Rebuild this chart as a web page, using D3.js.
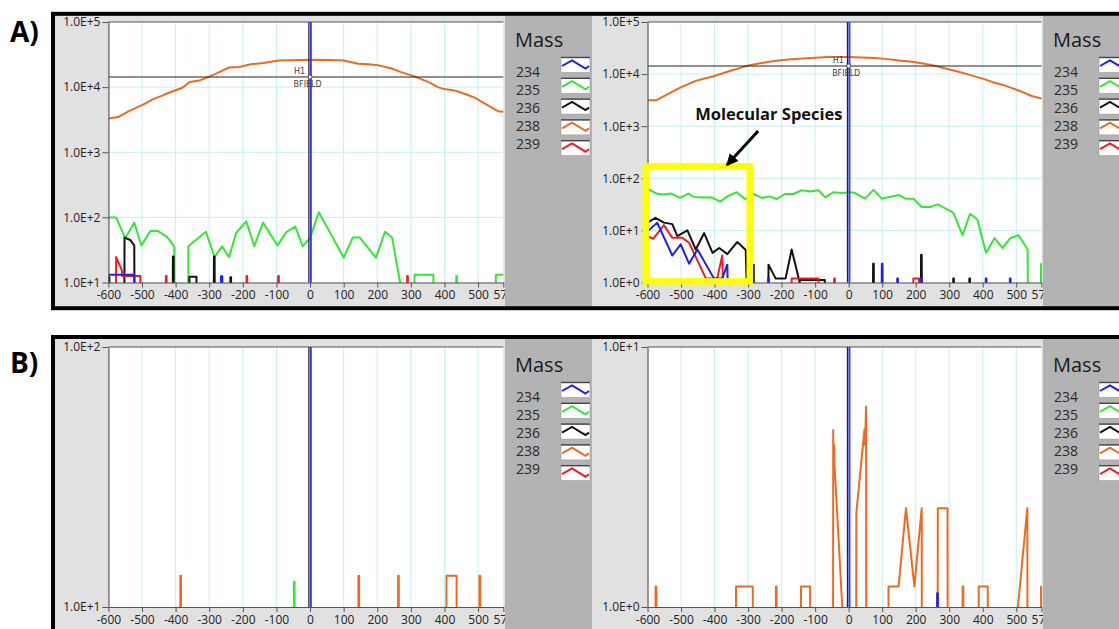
<!DOCTYPE html>
<html><head><meta charset="utf-8">
<script src="https://cdn.jsdelivr.net/npm/d3@7"></script>
<style>
body{margin:0;background:#fff;}
svg{display:block;font-family:"Open Sans",sans-serif;}
</style></head>
<body><svg id="c" width="1119" height="629"></svg>
<script>
// ---------------- DATA ----------------
const masses = ["234","235","236","238","239"];
const xTicks = [-600,-500,-400,-300,-200,-100,0,100,200,300,400,500,575];
const yTicksA1 = [1e1,1e2,1e3,1e4,1e5];
const yTicksA2 = [1e0,1e1,1e2,1e3,1e4,1e5];
const yTicksB1 = [1e1,1e2];
const yTicksB2 = [1e0,1e1];
const cursorValue = 14300;     // H1 BFIELD cursor level (panel A)
const cursorX = 0;

// Panel A, left  (0 = below range)
const a1_234 = [[-600,13.1],[-523,13.1],[-522,0],[-266,0],[-265,12.5],[-261,12.5],[-260,0]];
const a1_235 = [[-600,100],[-577,100],[-550,48],[-523,83],[-502,37],[-475,62],[-454,62],[-427,51],[-404,36],[-403,0],[-363,0],[-362,36],[-310,60],[-284,24.5],[-262,36],[-241,24.5],[-220,57.5],[-190,87],[-166,36],[-140,83],[-97,37],[-70,60],[-44,72],[-22,36],[0,48],[26,120],[63,54],[100,24],[127,49],[148,49],[196,24],[223,60],[244,49],[268,10],[269,0],[310,0],[311,13.2],[367,13.2],[368,0],[434,0],[435,12.6],[437,12.6],[438,0],[552,0],[553,13.2],[575,13.2]];
const a1_236 = [[-600,0],[-599,12.3],[-597,12.3],[-596,0],[-553,0],[-552,49],[-535,45],[-523,37],[-522,0],[-409,0],[-408,25],[-406,25],[-405,0],[-360,0],[-359,12.3],[-338,12.3],[-337,0],[-287,0],[-286,25],[-284,25],[-283,0],[-238,0],[-237,12],[-235,12],[-234,0]];
const a1_238 = [[-600,3310],[-571,3470],[-539,4270],[-497,5370],[-465,6610],[-440,7400],[-422,8130],[-380,9770],[-358,12000],[-330,12600],[-305,14100],[-270,17000],[-241,20000],[-210,20400],[-177,22400],[-140,23500],[-92,25700],[0,26300],[60,26000],[100,25700],[143,22900],[175,22500],[207,21400],[240,19500],[271,17000],[313,14500],[356,11700],[380,10000],[399,9330],[430,8900],[463,7760],[490,6900],[516,5750],[540,4900],[559,4270],[575,4170]];
const a1_239 = [[-578,0],[-577,24.6],[-560,15.5],[-559,12.6],[-505,12.6],[-504,0],[-430,0],[-429,12.6],[-427,12.6],[-426,0],[-190,0],[-189,12.6],[-187,12.6],[-186,0],[-96,0],[-95,12.6],[-93,12.6],[-92,0],[288,0],[289,12.6],[291,12.6],[292,0]];

// Panel A, right
const a2_234 = [[-600,9.5],[-571,14.1],[-526,3.3],[-501,5.4],[-476,2.3],[-451,4.3],[-402,1.2],[-377,1.2],[-362,2.2],[-357,0],[-241,0],[-240,1.2],[-238,1.2],[-237,0],[98,0],[99,2.3],[101,2.3],[102,0],[144,0],[145,1.2],[147,1.2],[148,0],[214,0],[215,1.2],[217,1.2],[218,0],[408,0],[409,1.2],[411,1.2],[412,0],[480,0],[481,1.2],[483,1.2],[484,0]];
const a2_235 = [[-600,63],[-573,51],[-553,49],[-528,51],[-503,42],[-478,51],[-463,44],[-433,43],[-408,43],[-384,35.5],[-359,46],[-334,54],[-309,40],[-284,50],[-259,42],[-235,45],[-215,40],[-190,50],[-165,50],[-140,59],[-115,56],[-90,59],[-70,43],[-46,54],[-21,52],[4,54],[19,52],[49,40.7],[74,60],[99,40.7],[149,48],[169,40.7],[193,40.7],[218,28.2],[243,28.2],[266,31.6],[312,21.9],[340,8.1],[362,20.9],[384,16.2],[410,3.7],[435,7.1],[459,4.6],[482,7.1],[507,8.1],[534,4.3],[535,0],[573,0],[574,2.3],[575,2.3]];
const a2_236 = [[-600,14.1],[-576,17.4],[-551,14.1],[-526,13.2],[-511,7.8],[-481,10],[-456,4.3],[-431,8.9],[-406,3.7],[-386,4.6],[-362,3.5],[-332,6],[-307,4.2],[-300,0],[-286,0],[-285,2.2],[-283,2.2],[-282,0],[-240,0],[-239,2.2],[-218,1.2],[-188,1.2],[-170,4.3],[-146,1],[-145,1.12],[-71,1.12],[-70,0],[72,0],[73,2.3],[75,2.3],[76,0],[215,0],[216,3.4],[218,3.4],[219,0],[311,0],[312,1.2],[314,1.2],[315,0],[359,0],[360,1.2],[362,1.2],[363,0]];
const a2_238 = [[-600,3160],[-573,3160],[-541,4070],[-520,4800],[-499,5620],[-456,7410],[-430,8200],[-403,9120],[-350,11700],[-320,13300],[-296,14800],[-260,16300],[-222,17800],[-180,19000],[-136,20000],[-62,21400],[0,21400],[77,20400],[110,19600],[151,18200],[190,17200],[226,15800],[260,14300],[301,12300],[330,11000],[364,9550],[400,8200],[428,7080],[460,6200],[492,5250],[520,4500],[546,3800],[575,3390]];
const a2_239 = [[-600,7.8],[-583,6.9],[-551,12.6],[-526,7.2],[-496,7.2],[-476,5.8],[-426,1.2],[-392,1.2],[-377,3.3],[-372,0],[-171,0],[-170,1.2],[-90,1.2],[-89,0],[-44,0],[-43,1.2],[-41,1.2],[-40,0],[192,0],[193,1.2],[210,1.2],[211,0]];

// Panel B, left
const b1_234 = [];
const b1_235 = [[-49,0],[-48,12.5],[-46,12.5],[-45,0]];
const b1_236 = [];
const b1_238 = [[-387,0],[-386,13.2],[-384,13.2],[-383,0],[143,0],[144,13.2],[146,13.2],[147,0],[261,0],[262,13.2],[264,13.2],[265,0],[405,0],[406,13.2],[436,13.2],[437,0],[503,0],[504,13.2],[506,13.2],[507,0]];
const b1_239 = [];

// Panel B, right
const b2_234 = [[263,0],[264,1.13],[266,1.13],[267,0]];
const b2_235 = [];
const b2_236 = [];
const b2_238 = [[-577,0],[-576,1.2],[-574,1.2],[-573,0],[-337,0],[-336,1.2],[-286,1.2],[-285,0],[-218,0],[-217,1.2],[-215,1.2],[-214,0],[-143,0],[-142,1.2],[-115,1.2],[-114,0],[-47,0],[-46,4.8],[-45,3.3],[-43,4.2],[-42,3.5],[-19,1],[-18,0],[22,0],[23,2.3],[47,4.8],[49,4.2],[52,5.9],[53,0],[118,0],[119,1.2],[149,1.2],[171,2.4],[196,1.2],[218,2.4],[219,0],[265,0],[266,2.4],[295,2.4],[296,0],[339,0],[340,1.2],[342,1.2],[343,0],[387,0],[388,1.2],[415,1.2],[416,0],[504,0],[505,1],[533,2.4],[534,0],[573,0],[574,1.2],[575,1.2]];
const b2_239 = [];

// Annotation (data units of panel A right)
const boxRange = [[-605,170],[-295,1.05]];
const arrowFrom = [-270,809];
const arrowTo = [-363,180];
const noteAt = [-238,1318];
const noteText = "Molecular Species";

// ---------------- STYLE / LAYOUT ----------------
const COLORS = ["#1e1ef2","#33e833","#111111","#ee6a1e","#f01c24"];
const DRAW_ORDER = [3,1,2,4,0];
const cols = [
  {x0:108.4, x1:503.3, legX:505, legX1:592},
  {x0:647.5, x1:1041.4, legX:1043, legX1:1125}
];
const rows = [
  {top:22, bottom:282.5, bTop:13.8, bBot:308.2, label:"A)", labelY:41.7},
  {top:347, bottom:607, bTop:337, bBot:634, label:"B)", labelY:373}
];
const charts = [
  {r:0,c:0,ticks:yTicksA1,series:[a1_234,a1_235,a1_236,a1_238,a1_239],cursorH:true},
  {r:0,c:1,ticks:yTicksA2,series:[a2_234,a2_235,a2_236,a2_238,a2_239],cursorH:true},
  {r:1,c:0,ticks:yTicksB1,series:[b1_234,b1_235,b1_236,b1_238,b1_239],cursorH:false},
  {r:1,c:1,ticks:yTicksB2,series:[b2_234,b2_235,b2_236,b2_238,b2_239],cursorH:false}
];

const svg = d3.select("#c");
const defs = svg.append("defs");

rows.forEach(R=>{
  svg.append("rect").attr("x",53).attr("y",R.bTop).attr("width",1080).attr("height",R.bBot-R.bTop)
    .attr("fill","#e1e1e1");
});

const fmtY = v => "1.0E+" + Math.round(Math.log10(v));
const scalesA2 = {};

charts.forEach((C,i)=>{
  const R = rows[C.r], K = cols[C.c];
  const g = svg.append("g");
  const x = d3.scaleLinear().domain([xTicks[0], xTicks[xTicks.length-1]]).range([K.x0,K.x1]);
  const ymin = C.ticks[0], ymax = C.ticks[C.ticks.length-1];
  const y = d3.scaleLog().domain([ymin,ymax]).range([R.bottom,R.top]);
  if (C.r===0 && C.c===1) { scalesA2.x = x; scalesA2.y = y; }
  const yv = v => y(v>0 ? v : ymin/10);

  g.append("rect").attr("x",K.x0).attr("y",R.top).attr("width",K.x1-K.x0).attr("height",R.bottom-R.top).attr("fill","#fff");
  g.selectAll(null).data(xTicks.slice(1,-1)).enter().append("line")
    .attr("x1",d=>x(d)).attr("x2",d=>x(d)).attr("y1",R.top).attr("y2",R.bottom)
    .attr("stroke","#c4f0f6").attr("stroke-width",1);
  g.selectAll(null).data(C.ticks.slice(1,-1)).enter().append("line")
    .attr("x1",K.x0).attr("x2",K.x1).attr("y1",d=>y(d)).attr("y2",d=>y(d))
    .attr("stroke","#c4f0f6").attr("stroke-width",1);
  g.append("line").attr("x1",K.x0).attr("x2",K.x1).attr("y1",R.top).attr("y2",R.top)
    .attr("stroke","#555").attr("stroke-width",1.2);

  const cid = "clip"+i;
  defs.append("clipPath").attr("id",cid).append("rect")
    .attr("x",K.x0).attr("y",R.top-2).attr("width",K.x1-K.x0+1).attr("height",R.bottom-R.top+2.5);
  const sg = g.append("g").attr("clip-path","url(#"+cid+")");
  const line = d3.line().x(d=>x(d[0])).y(d=>yv(d[1]));
  DRAW_ORDER.forEach(k=>{
    const s = C.series[k];
    if (!s.length) return;
    sg.append("path").attr("d",line(s)).attr("fill","none").attr("stroke",COLORS[k])
      .attr("stroke-width",2).attr("stroke-linejoin","round");
  });

  g.append("line").attr("x1",x(cursorX)-1.2).attr("x2",x(cursorX)-1.2).attr("y1",R.top).attr("y2",R.bottom)
    .attr("stroke","#222").attr("stroke-width",1.2);
  g.append("line").attr("x1",x(cursorX)+0.8).attr("x2",x(cursorX)+0.8).attr("y1",R.top).attr("y2",R.bottom)
    .attr("stroke","#3838ff").attr("stroke-width",2);
  if (C.cursorH) {
    const cy = y(cursorValue);
    g.append("line").attr("x1",K.x0).attr("x2",K.x1).attr("y1",cy).attr("y2",cy)
      .attr("stroke","#222").attr("stroke-width",1);
    g.append("circle").attr("cx",x(cursorX)).attr("cy",cy).attr("r",2).attr("fill","#fff").attr("stroke","#333").attr("stroke-width",0.8);
    g.append("text").attr("x",x(cursorX)-16).attr("y",cy-3.5).text("H1")
      .attr("font-family","DejaVu Sans").attr("font-size",8).attr("fill","#444");
    g.append("text").attr("x",x(cursorX)-16.5).attr("y",cy+9.5).text("BFIELD")
      .attr("font-family","DejaVu Sans").attr("font-size",8).attr("fill","#444");
  }

  const xa = g.append("g").attr("transform","translate(0,"+R.bottom+")")
    .call(d3.axisBottom(x).tickValues(xTicks).tickFormat(d=>String(d)).tickSize(5).tickPadding(3).tickSizeOuter(0));
  const ya = g.append("g").attr("transform","translate("+K.x0+",0)")
    .call(d3.axisLeft(y).tickValues(C.ticks).tickFormat(fmtY).tickSize(6).tickPadding(2).tickSizeOuter(0));
  [xa,ya].forEach(a=>{
    a.attr("font-family","Open Sans").attr("font-size",12);
    a.selectAll("path").attr("stroke","#555").attr("stroke-width",1.2);
    a.selectAll("line").attr("stroke","#555");
    a.selectAll("text").attr("fill","#222");
  });
});

rows.forEach(R=>{
  cols.forEach(K=>{
    const lg = svg.append("g");
    lg.append("rect").attr("x",K.legX).attr("y",R.bTop+2).attr("width",K.legX1-K.legX).attr("height",R.bBot-R.bTop-4)
      .attr("fill","#b3b3b3");
    lg.append("text").attr("x",K.legX+10).attr("y",R.top+25).text("Mass")
      .attr("font-size",20).attr("fill","#1a1a1a");
    masses.forEach((m,k)=>{
      lg.append("text").attr("x",K.legX+11).attr("y",R.top+54.5+18.2*k).text(m)
        .attr("font-size",14).attr("fill","#2a2a2a");
      const sx = K.legX+56, sy = R.top+35.5+20.8*k, w=29, h=15;
      lg.append("rect").attr("x",sx).attr("y",sy).attr("width",w).attr("height",h).attr("fill","#fff")
        .attr("stroke","#999").attr("stroke-width",0.6);
      lg.append("line").attr("x1",sx).attr("x2",sx+w).attr("y1",sy).attr("y2",sy).attr("stroke","#444").attr("stroke-width",1.4);
      lg.append("path").attr("d",`M${sx+1},${sy+8.5}L${sx+11},${sy+2.8}L${sx+24.5},${sy+11}L${sx+28},${sy+8.5}`)
        .attr("fill","none").attr("stroke",COLORS[k]).attr("stroke-width",2);
    });
  });
});

rows.forEach(R=>{
  svg.append("rect").attr("x",53).attr("y",R.bTop).attr("width",1080).attr("height",R.bBot-R.bTop)
    .attr("fill","none").attr("stroke","#000").attr("stroke-width",4);
  svg.append("text").attr("x",10).attr("y",R.labelY).text(R.label)
    .attr("font-size",28).attr("font-weight","bold").attr("fill","#000");
});

const X = scalesA2.x, Y = scalesA2.y;
svg.append("rect").attr("x",X(boxRange[0][0])).attr("y",Y(boxRange[0][1]))
  .attr("width",X(boxRange[1][0])-X(boxRange[0][0])).attr("height",Y(boxRange[1][1])-Y(boxRange[0][1]))
  .attr("fill","none").attr("stroke","#ffff00").attr("stroke-width",6.5);
defs.append("marker").attr("id","ah").attr("viewBox","0 0 10 10").attr("refX",9).attr("refY",5)
  .attr("markerUnits","userSpaceOnUse").attr("markerWidth",12).attr("markerHeight",12).attr("orient","auto")
  .append("path").attr("d","M0,0L10,5L0,10Z").attr("fill","#000");
svg.append("line").attr("x1",X(arrowFrom[0])).attr("y1",Y(arrowFrom[1])).attr("x2",X(arrowTo[0])).attr("y2",Y(arrowTo[1]))
  .attr("stroke","#000").attr("stroke-width",3).attr("marker-end","url(#ah)");
svg.append("text").attr("x",X(noteAt[0])).attr("y",Y(noteAt[1])).attr("text-anchor","middle").text(noteText)
  .attr("font-size",16.5).attr("font-weight","bold").attr("fill","#111");
</script></body></html>
